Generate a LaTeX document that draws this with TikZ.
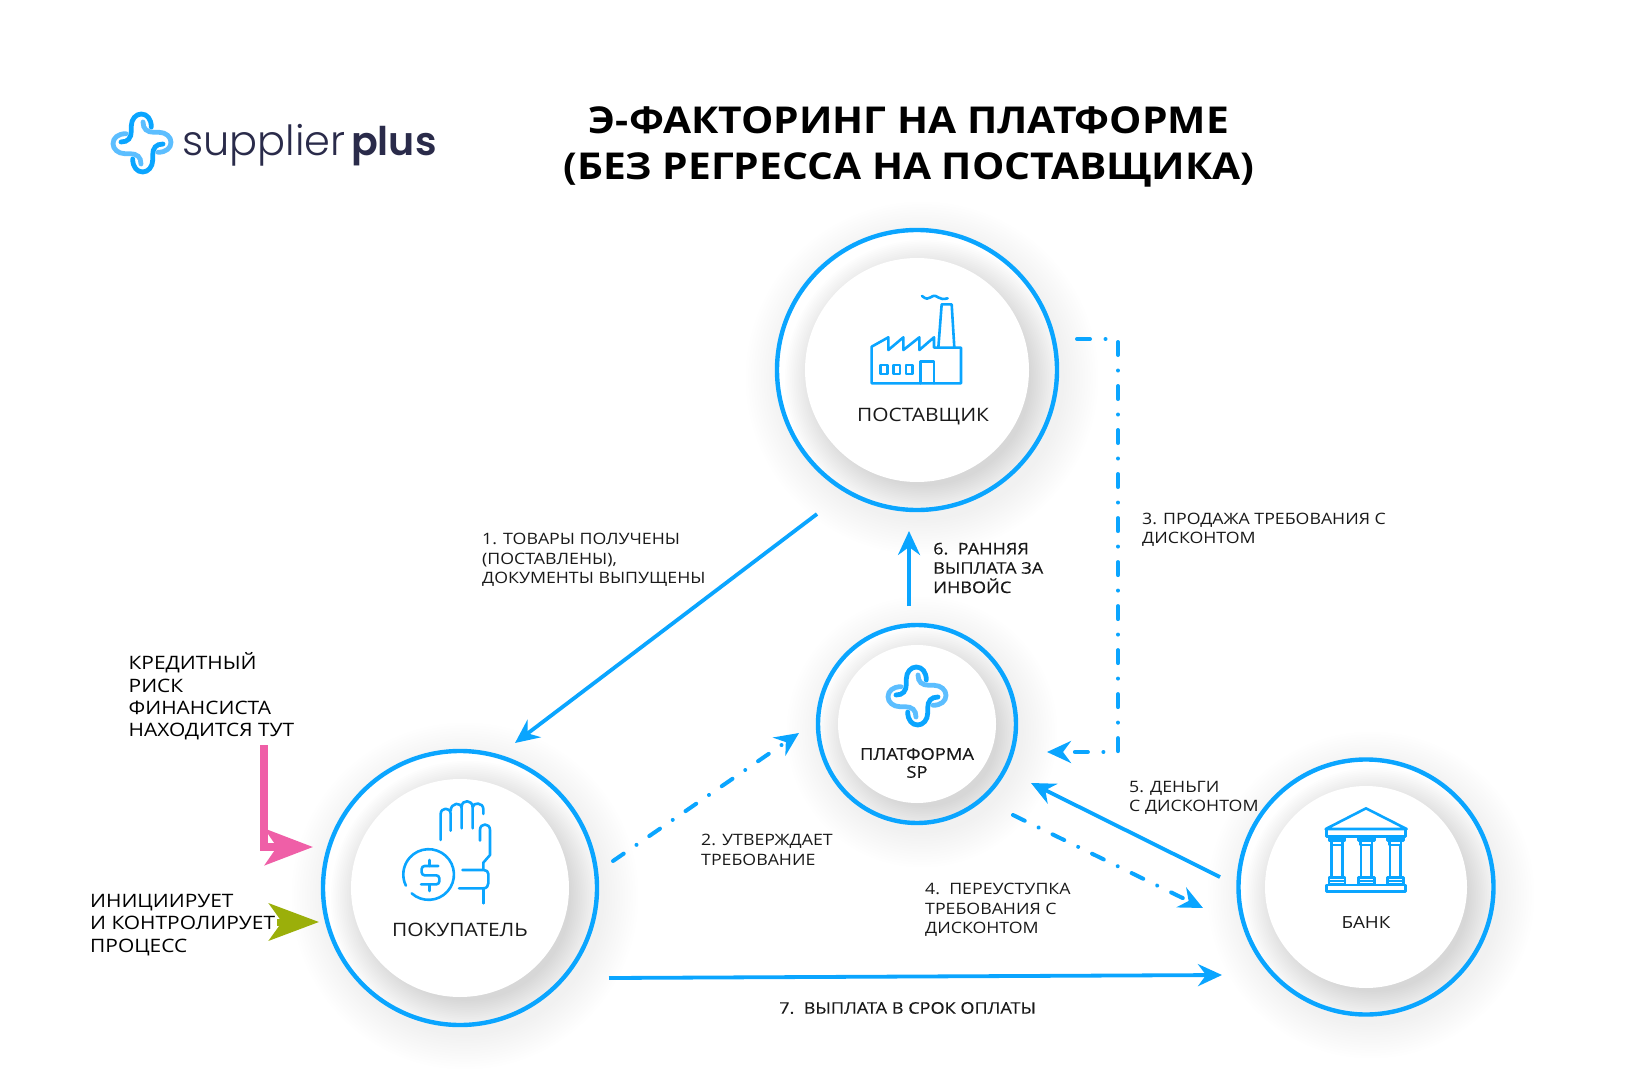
\documentclass[tikz,border=0pt]{standalone}
\usepackage{fontspec}
\setmainfont[FakeStretch=1.13]{Open Sans}
\newfontfamily\medfont[FakeStretch=1.13,FakeBold=0.25]{Open Sans}
\newfontfamily\titlefont[FakeStretch=1.1]{Open Sans}
\newfontfamily\logofont{Poppins Light}
\newfontfamily\logobold{Poppins SemiBold}
\usepackage{tikz}
\usetikzlibrary{arrows.meta, positioning, calc}

\definecolor{spblue}{HTML}{0AA5FF}
\definecolor{splight}{HTML}{5CBEFF}
\definecolor{spdark}{HTML}{2A2B4A}
\definecolor{riskpink}{HTML}{EF5FA7}
\definecolor{startgreen}{HTML}{9BAF0A}

% soft shadow, ring shading and white centre of one hub
\newcommand{\hubdisc}[3]{
    \foreach \k in {1,...,14} {
        \fill[black, opacity=.004] ($(#1)+(5,8)$) circle ({#2+2.6*\k});
    }
    \fill[white] (#1) circle (#2);
    \begin{scope}
        \clip (#1) circle (#2);
        \foreach \k in {1,...,20} {
            \fill[black, opacity=.0085] ($(#1)+(8,10)$) circle ({#3+30-1.8*\k});
        }
    \end{scope}
    \fill[white] (#1) circle (#3);
}

% the plus made of four hooks
\newcommand{\spcross}[1]{
    \foreach \ang/\col in {0/spblue, -90/splight, 180/spblue, 90/splight} {
        \draw[shift={(#1)}, rotate=\ang, \col, line width=4.8pt, line cap=round]
            (9.3,-16) .. controls (9.3,-24) and (5,-29) .. (-.7,-29)
            .. controls (-6,-29) and (-10.7,-24) .. (-10.7,-17)
            -- (-10.7,-12) .. controls (-10.7,-5) and (-14,-1) .. (-21,-1);
    }
}

\begin{document}
\begin{tikzpicture}[
    x=1pt, y=-1pt,
    hub/.style={draw=spblue, circle, line width=4.4pt, inner sep=0pt, outer sep=0pt},
    caption/.style={inner sep=0pt, align=center, text=black!90, font=\fontsize{18.5}{18}\selectfont},
    note/.style={inner sep=0pt, anchor=west, align=left, text=black!90, font=\fontsize{15.7}{19.3}\selectfont},
    bignote/.style={inner sep=0pt, anchor=west, align=left, text=black, font=\fontsize{18.5}{22.4}\selectfont},
    flow/.style={draw=spblue, line width=3.8pt, -{Stealth[length=24pt, width=22pt, inset=8pt]}},
    flowdash/.style={flow, line width=4pt, line cap=round, dash pattern=on 13pt off 15.5pt on .01pt off 15.5pt},
    icon/.style={draw=spblue, line width=2.6pt, line cap=round, line join=round}
]
    \useasboundingbox (0,0) rectangle (1638,1078);
    \fill[white] (0,0) rectangle (1638,1078);

    % Hub centres
    \coordinate (cs) at (917,370);
    \coordinate (cp) at (917,724);
    \coordinate (cb) at (460,888);
    \coordinate (cf) at (1366,887);
    \hubdisc{cs}{140}{112}
    \hubdisc{cp}{99}{79}
    \hubdisc{cb}{137}{109}
    \hubdisc{cf}{127}{101}
    \node[hub, minimum size=280pt] (supplier) at (cs) {};
    \node[hub, minimum size=198pt] (platform) at (cp) {};
    \node[hub, minimum size=274pt] (buyer) at (cb) {};
    \node[hub, minimum size=255pt] (bank) at (cf) {};

    % Logo and title
    \spcross{142,143}
    \node[inner sep=0pt, anchor=base west, text=spdark, font=\logofont\fontsize{41.5}{42}\selectfont] (logo) at (182,156) {supplier};
    \node[inner sep=0pt, anchor=base west, text=spdark, font=\logobold\fontsize{39.5}{42}\selectfont] (logoplus) at (351,156) {plus};
    \node[inner sep=0pt, align=center, font=\titlefont\bfseries\fontsize{37}{45.5}\selectfont] (title) at (909,147)
        {Э-ФАКТОРИНГ НА ПЛАТФОРМЕ\\(БЕЗ РЕГРЕССА НА ПОСТАВЩИКА)};

    % Hub captions
    \node[caption] (suppliertext) at (923,417) {ПОСТАВЩИК};
    \node[caption] (buyertext) at (460,930) {ПОКУПАТЕЛЬ};
    \node[caption, font=\medfont\fontsize{16.2}{18}\selectfont] (platformtext) at (917,763) {ПЛАТФОРМА\\SP};
    \node[caption, font=\fontsize{16.7}{18}\selectfont] (banktext) at (1366,923) {БАНК};
    \spcross{917,696}

    % Factory icon
    \begin{scope}[shift={(760,210)}, scale=1/3]
        \draw[icon] (335,520) -- (335,410) -- (385,382) -- (385,420) -- (430,382) -- (430,420)
            -- (478,382) -- (478,420) -- (522,382) -- (522,413) -- (603,413) -- (603,520) -- cycle;
        \draw[icon] (535,413) -- (545,283) -- (575,283) -- (583,413);
        \draw[icon] (486,258) .. controls (498,268) and (505,268) .. (512,262)
            .. controls (520,256) and (526,256) .. (534,262)
            .. controls (542,268) and (550,268) .. (563,265);
        \draw[icon] (362,465) rectangle (382,492);
        \draw[icon] (400,465) rectangle (420,492);
        \draw[icon] (438,465) rectangle (458,492);
        \draw[icon] (482,520) -- (482,455) -- (522,455) -- (522,520);
    \end{scope}

    % Hand icon
    \begin{scope}[shift={(390,790)}, scale=1/3]
        \draw[icon] (65,310) arc (132:-206:76);
        \draw[icon, rounded corners=3pt] (145,228) -- (95,228) -- (95,256) -- (148,256) -- (148,283) -- (93,283);
        \draw[icon] (118,210) -- (118,228) (118,283) -- (118,303);
        \draw[icon] (152,150) -- (152,72) .. controls (152,52) and (182,50) .. (182,72) -- (182,122);
        \draw[icon] (182,62) .. controls (182,38) and (215,34) .. (215,56) -- (215,115);
        \draw[icon] (215,50) .. controls (215,28) and (248,28) .. (248,52) -- (248,115);
        \draw[icon] (248,52) .. controls (248,36) and (280,36) .. (280,58) -- (280,72);
        \draw[icon] (270,152) -- (270,120) .. controls (270,98) and (300,98) .. (300,120) -- (300,195) -- (280,218) -- (280,237);
        \draw[icon] (217,240) -- (282,240) .. controls (290,240) and (295,246) .. (295,252) -- (295,280)
            .. controls (295,288) and (290,295) .. (280,295) -- (207,295);
        \draw[icon] (280,295) -- (280,340);
    \end{scope}

    % Bank icon
    \begin{scope}[shift={(1230,750)}, scale=1/3]
        \draw[icon] (287,237) -- (408,175) -- (530,237) -- cycle;
        \draw[icon] (290,237) -- (290,260) -- (527,260) -- (527,237);
        \foreach \cx in {321,409,496} {
            \draw[icon] (\cx-24,262) rectangle (\cx+24,272);
            \draw[icon] (\cx-17,272) -- (\cx-17,285) -- (\cx+17,285) -- (\cx+17,272);
            \draw[icon] (\cx-16,285) -- (\cx-16,382) (\cx+16,285) -- (\cx+16,382);
            \draw[icon] (\cx-24,382) rectangle (\cx+24,404);
            \draw[icon] (\cx-24,393) -- (\cx+24,393);
        }
        \draw[icon] (290,405) rectangle (527,424);
    \end{scope}

    % Arrow ends
    \coordinate (a1s) at (817,514);
    \coordinate (a1e) at (515,743);
    \coordinate (a2s) at (613,861);
    \coordinate (a2e) at (799,733);
    \coordinate (a3s) at (1077,339);
    \coordinate (a3r) at (1118,339);
    \coordinate (a3b) at (1118,752);
    \coordinate (a3e) at (1047,752);
    \coordinate (a4s) at (1013,815);
    \coordinate (a4e) at (1203,908);
    \coordinate (a5s) at (1220,877);
    \coordinate (a5e) at (1031,783);
    \coordinate (a6s) at (909,606);
    \coordinate (a6e) at (909,531);
    \coordinate (a7s) at (609,978);
    \coordinate (a7e) at (1222,975);
    \coordinate (rs) at (264,745);
    \coordinate (re) at (313,847);
    \coordinate (gs) at (277,922);
    \coordinate (ge) at (319,922);

    \draw[flow] (a1s) -- (a1e);
    \draw[flowdash] (a2s) -- (a2e);
    \draw[flowdash] (a3s) -- (a3r) -- (a3b) -- (a3e);
    \draw[flowdash] (a4s) -- (a4e);
    \draw[flow] (a5s) -- (a5e);
    \draw[flow] (a6s) -- (a6e);
    \draw[flow] (a7s) -- (a7e);
    \draw[riskpink, line width=8pt, -{Stealth[length=48pt, width=36pt, inset=12pt]}] (rs) |- (re);
    \draw[startgreen, line width=7pt, -{Stealth[length=50pt, width=37pt, inset=13pt]}] (gs) -- (ge);

    % Notes
    \node[note] (n1) at (482,560) {1. ТОВАРЫ ПОЛУЧЕНЫ\\(ПОСТАВЛЕНЫ),\\ДОКУМЕНТЫ ВЫПУЩЕНЫ};
    \node[note] (n2) at (701,850) {2. УТВЕРЖДАЕТ\\ТРЕБОВАНИЕ};
    \node[note] (n3) at (1142,530) {3. ПРОДАЖА ТРЕБОВАНИЯ С\\ДИСКОНТОМ};
    \node[note] (n4) at (925,910) {4.\ \ ПЕРЕУСТУПКА\\ТРЕБОВАНИЯ С\\ДИСКОНТОМ};
    \node[note] (n5) at (1129,797.5) {5. ДЕНЬГИ\\С ДИСКОНТОМ};
    \node[note, font=\medfont\fontsize{16}{19.3}\selectfont] (n6) at (933,568) {6.\ \ РАННЯЯ\\ВЫПЛАТА ЗА\\ИНВОЙС};
    \node[note, font=\medfont\fontsize{16}{19.3}\selectfont] (n7) at (779,1008) {7.\ \ ВЫПЛАТА В СРОК ОПЛАТЫ};
    \node[bignote] (risk) at (128.5,696.5) {КРЕДИТНЫЙ\\РИСК\\ФИНАНСИСТА\\НАХОДИТСЯ ТУТ};
    \node[bignote] (start) at (90,925) {ИНИЦИИРУЕТ\\И КОНТРОЛИРУЕТ\\ПРОЦЕСС};
\end{tikzpicture}
\end{document}
